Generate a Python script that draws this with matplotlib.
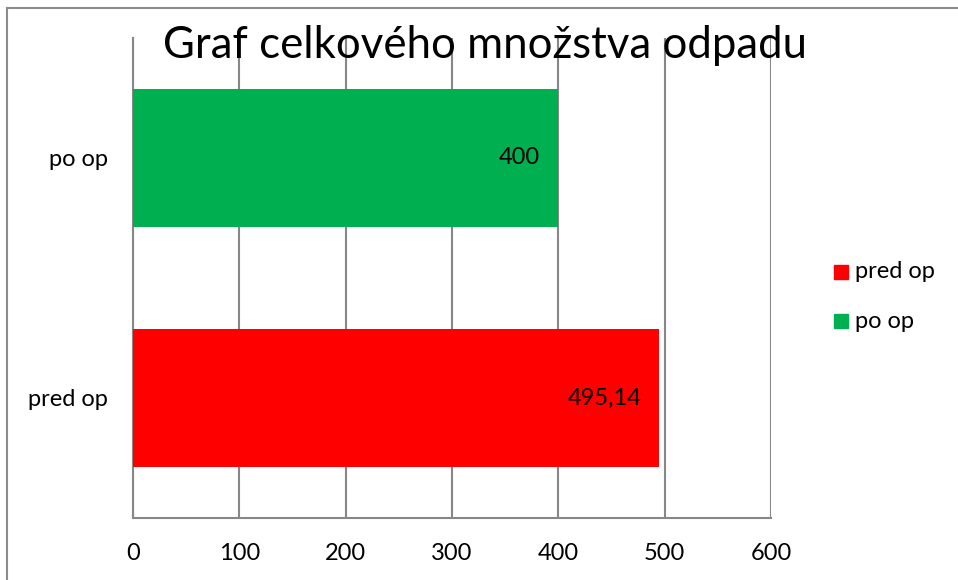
import matplotlib
matplotlib.use('Agg')
import matplotlib.pyplot as plt
from matplotlib.patches import Rectangle

plt.rcParams.update({
    "font.family": ["Lato", "DejaVu Sans"],
})

categories = ["pred op", "po op"]
values = [495.14, 400]
labels = ["495,14", "400"]
colors = ["#ff0000", "#00b050"]
xticks = [0, 100, 200, 300, 400, 500, 600]
title = "Graf celkového množstva odpadu"

W, H = 958, 580
fig = plt.figure(figsize=(W / 100, H / 100), dpi=100)
ax = fig.add_axes([133 / W, 1 - 518 / H, (771 - 133) / W, (518 - 38) / H])

grid_c = "#878787"
ypos = list(range(len(categories)))
bars = ax.barh(ypos, values, height=0.575, color=colors, zorder=3)

for b, lab in zip(bars, labels):
    ax.text(b.get_width() - 17, b.get_y() + b.get_height() / 2, lab,
            ha="right", va="center", fontsize=17, color="black", zorder=4)

ax.set_xlim(0, 600)
ax.set_ylim(-0.5, 1.5)
ax.set_xticks(xticks)
ax.set_xticklabels([str(t) for t in xticks], fontsize=17)
ax.set_yticks(ypos)
ax.set_yticklabels(categories, fontsize=17)
ax.tick_params(length=0)
ax.tick_params(axis="x", pad=18)
ax.tick_params(axis="y", pad=18)
ax.xaxis.grid(True, color=grid_c, lw=1.5, zorder=0)
ax.spines["top"].set_visible(False)
ax.spines["right"].set_visible(False)
for s in ["left", "bottom"]:
    ax.spines[s].set_color(grid_c)
    ax.spines[s].set_linewidth(1.5)

fig.text(485 / W, 1 - 46 / H, title, ha="center", va="center",
         fontsize=31.5, color="black", zorder=10)

# legend drawn as figure artists
leg_y = [272, 321]
for (cat, col), y in zip(zip(categories, colors), leg_y):
    fig.patches.append(Rectangle((834 / W, 1 - (y + 7) / H), 14 / W, 14 / H,
                                 transform=fig.transFigure, color=col))
    fig.text(855 / W, 1 - y / H, cat, ha="left", va="center", fontsize=17)

fig.patches.append(Rectangle((7 / W, -0.05), 1.1, 1.05 - 8 / H,
                             transform=fig.transFigure, fill=False,
                             edgecolor="#8c8c8c", lw=1.5))

fig.savefig("out.png", dpi=100)
